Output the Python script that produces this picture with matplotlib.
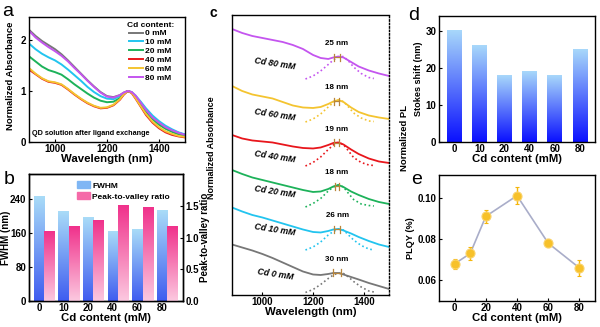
import numpy as np
import matplotlib.pyplot as plt
from matplotlib.colors import LinearSegmentedColormap
from matplotlib.patches import Patch

plt.rcParams['font.family'] = ['Liberation Sans', 'DejaVu Sans']
plt.rcParams['font.weight'] = 'bold'
plt.rcParams['axes.labelweight'] = 'bold'
plt.rcParams['axes.labelsize'] = 8.2
plt.rcParams['axes.linewidth'] = 1.0
plt.rcParams['xtick.direction'] = 'in'
plt.rcParams['ytick.direction'] = 'in'
plt.rcParams['xtick.labelsize'] = 7
plt.rcParams['ytick.labelsize'] = 7
plt.rcParams['xtick.major.size'] = 2.5
plt.rcParams['ytick.major.size'] = 2.5
plt.rcParams['xtick.major.pad'] = 1.5
plt.rcParams['ytick.major.pad'] = 2

# Cd content series
cd_labels = ['0', '10', '20', '40', '60', '80']
cd_values = [0, 10, 20, 40, 60, 80]
line_colors = ['#777777', '#22c4ef', '#1db25a', '#e8161c', '#f4c430', '#c455ef']

# (a) absorbance of QD solutions
wl_a = [900, 925, 950, 975, 1000, 1025, 1050, 1075, 1100, 1125, 1150, 1175, 1200, 1225,
        1250, 1265, 1280, 1295, 1310, 1330, 1350, 1375, 1400, 1425, 1450, 1475, 1500]
abs_0 = [2.20, 2.08, 1.98, 1.90, 1.82, 1.72, 1.60, 1.47, 1.34, 1.21, 1.09, 0.98, 0.90, 0.88,
         0.92, 0.97, 1.00, 0.97, 0.89, 0.75, 0.61, 0.47, 0.37, 0.29, 0.23, 0.18, 0.14]
abs_10 = [1.93, 1.82, 1.73, 1.66, 1.60, 1.52, 1.42, 1.31, 1.20, 1.08, 0.98, 0.90, 0.85, 0.84,
          0.90, 0.96, 1.00, 0.98, 0.91, 0.79, 0.66, 0.52, 0.41, 0.32, 0.25, 0.19, 0.15]
abs_20 = [1.68, 1.58, 1.48, 1.41, 1.37, 1.32, 1.23, 1.13, 1.04, 0.95, 0.87, 0.81, 0.78, 0.79,
          0.86, 0.94, 1.00, 0.97, 0.88, 0.74, 0.59, 0.45, 0.34, 0.26, 0.20, 0.15, 0.12]
abs_40 = [1.42, 1.33, 1.24, 1.18, 1.16, 1.12, 1.03, 0.93, 0.84, 0.76, 0.70, 0.66, 0.67, 0.72,
          0.83, 0.93, 1.00, 0.96, 0.85, 0.69, 0.53, 0.38, 0.27, 0.19, 0.14, 0.11, 0.09]
abs_60 = [1.45, 1.34, 1.25, 1.19, 1.17, 1.13, 1.04, 0.94, 0.85, 0.77, 0.71, 0.67, 0.68, 0.73,
          0.84, 0.94, 1.00, 0.97, 0.86, 0.70, 0.55, 0.40, 0.29, 0.21, 0.16, 0.12, 0.10]
abs_80 = [2.18, 2.05, 1.95, 1.86, 1.78, 1.69, 1.58, 1.45, 1.33, 1.20, 1.08, 0.97, 0.89, 0.87,
          0.92, 0.97, 1.00, 0.98, 0.91, 0.77, 0.63, 0.48, 0.38, 0.29, 0.23, 0.18, 0.14]
abs_a = [abs_0, abs_10, abs_20, abs_40, abs_60, abs_80]

# (b) FWHM and peak-to-valley ratio
fwhm = [246, 212, 197, 165, 170, 214]
peak_valley = [1.10, 1.18, 1.27, 1.50, 1.48, 1.17]

# (c) stacked absorbance (solid) and PL (dotted), relative to each trace's baseline
wl_c = [880, 920, 960, 1000, 1040, 1080, 1120, 1160, 1200, 1230, 1260, 1280, 1300, 1320,
        1350, 1380, 1420, 1460, 1500]
c_abs_0 = [4.45, 4.15, 3.85, 3.50, 3.10, 2.65, 2.20, 1.75, 1.45, 1.40, 1.50, 1.60, 1.60, 1.45,
           1.20, 0.95, 0.60, 0.30, 0.0]
c_abs_10 = [3.95, 3.55, 3.20, 2.95, 2.65, 2.35, 2.05, 1.75, 1.50, 1.45, 1.60, 1.75, 1.80, 1.65,
            1.35, 1.00, 0.60, 0.25, 0.0]
c_abs_20 = [3.40, 3.00, 2.65, 2.40, 2.15, 1.90, 1.65, 1.40, 1.20, 1.25, 1.50, 1.75, 1.90, 1.70,
            1.25, 0.90, 0.50, 0.20, 0.0]
c_abs_40 = [2.80, 2.45, 2.25, 2.15, 2.05, 1.85, 1.65, 1.50, 1.45, 1.55, 1.80, 2.00, 2.05, 1.85,
            1.35, 0.90, 0.45, 0.15, 0.0]
c_abs_60 = [3.30, 2.80, 2.45, 2.25, 2.05, 1.70, 1.35, 1.15, 1.10, 1.20, 1.50, 1.75, 1.90, 1.70,
            1.15, 0.70, 0.35, 0.15, 0.0]
c_abs_80 = [4.70, 4.30, 4.00, 3.80, 3.60, 3.40, 3.10, 2.70, 2.10, 1.80, 1.70, 1.85, 1.95, 1.85,
            1.40, 0.95, 0.55, 0.25, 0.0]
c_abs = [c_abs_0, c_abs_10, c_abs_20, c_abs_40, c_abs_60, c_abs_80]

wl_pl = [1170, 1200, 1230, 1260, 1280, 1300, 1320, 1340, 1360, 1390, 1420, 1440]
c_pl_0 = [-0.35, -0.05, 0.45, 1.05, 1.40, 1.60, 1.55, 1.20, 0.75, 0.20, -0.20, -0.30]
c_pl_10 = [-0.30, 0.00, 0.50, 1.20, 1.55, 1.80, 1.70, 1.20, 0.70, 0.15, -0.20, -0.30]
c_pl_20 = [-0.30, 0.05, 0.55, 1.30, 1.70, 1.90, 1.70, 1.05, 0.45, 0.00, -0.15, -0.20]
c_pl_40 = [-0.30, 0.05, 0.60, 1.35, 1.80, 2.05, 1.85, 1.20, 0.55, 0.05, -0.20, -0.25]
c_pl_60 = [-0.30, 0.00, 0.50, 1.20, 1.65, 1.90, 1.75, 1.20, 0.60, 0.10, -0.20, -0.25]
c_pl_80 = [-0.30, 0.00, 0.50, 1.15, 1.60, 1.90, 1.95, 1.50, 0.90, 0.25, -0.15, -0.25]
c_pl = [c_pl_0, c_pl_10, c_pl_20, c_pl_40, c_pl_60, c_pl_80]

abs_peak_c = [1280, 1282, 1286, 1283, 1284, 1282]

# (d) Stokes shift, (e) PLQY
stokes = [30, 26, 18, 19, 18, 25]
plqy = [0.068, 0.073, 0.091, 0.101, 0.078, 0.066]
plqy_err = [0.0025, 0.003, 0.003, 0.004, 0.002, 0.004]

# vertical stacking of the traces in (c) and placement of their names
c_offsets = [0.6, 4.8, 9.1, 13.2, 17.6, 21.9]
c_name_dy = [1.5, 1.7, 1.2, 0.6, 0.4, 1.2]

blue_cmap = LinearSegmentedColormap.from_list('blue_bar', ['#3f5cf0', '#a9dcf8'])
pink_cmap = LinearSegmentedColormap.from_list('pink_bar', ['#fcc9e0', '#f0318b'])
deep_cmap = LinearSegmentedColormap.from_list('deep_bar', ['#0a10ff', '#a8d8fa'])


def fill_gradient(ax, bars, cmap):
    # paint each bar with a vertical colour ramp clipped to the bar outline
    grad = np.linspace(1, 0, 256).reshape(-1, 1)
    for bar in bars:
        x0, y0 = bar.get_x(), bar.get_y()
        w, h = bar.get_width(), bar.get_height()
        ax.imshow(grad, extent=[x0, x0 + w, y0, y0 + h], aspect='auto', cmap=cmap,
                  origin='upper', clip_path=bar, zorder=2, vmin=0, vmax=1)
        bar.set_facecolor('none')
        bar.set_edgecolor('none')


fig = plt.figure(figsize=(6, 3.27), dpi=100)

# ---- a ----
ax_a = fig.add_axes([0.0483, 0.5657, 0.26, 0.3823])
for vals, col, lab in zip(abs_a, line_colors, cd_labels):
    ax_a.plot(wl_a, vals, color=col, lw=1.4, label=lab + ' mM')
ax_a.set_xlim(900, 1500)
ax_a.set_ylim(0, 2.45)
ax_a.set_xticks([1000, 1200, 1400])
ax_a.set_yticks([0, 1, 2])
ax_a.set_xlabel('Wavelength (nm)', labelpad=0)
ax_a.set_ylabel('Normalized Absorbance', fontsize=6.8)
ax_a.yaxis.set_label_coords(-0.09, 0.53)
leg = ax_a.legend(title='Cd content:', fontsize=6, title_fontsize=6, frameon=False,
                  loc='upper right', bbox_to_anchor=(0.95, 0.99), handlelength=1.6,
                  handletextpad=0.3, labelspacing=0.12, borderaxespad=0.2,
                  borderpad=0.2)
leg.get_title().set_fontweight('bold')
ax_a.text(0.02, 0.06, 'QD solution after ligand exchange', transform=ax_a.transAxes,
          fontsize=5.2, fontweight='bold')

# ---- b ----
ax_b = fig.add_axes([0.0483, 0.0795, 0.2567, 0.3884])
ax_b2 = ax_b.twinx()
x_b = np.arange(len(cd_labels))
bw = 0.42
bars_f = ax_b.bar(x_b, fwhm, width=bw)
bars_p = ax_b2.bar(x_b + bw, peak_valley, width=bw)
fill_gradient(ax_b, bars_f, blue_cmap)
fill_gradient(ax_b2, bars_p, pink_cmap)
ax_b.set_xlim(-0.4, 5.85)
ax_b.set_ylim(0, 300)
ax_b2.set_ylim(0, 2.0)
ax_b.set_xticks(x_b)
ax_b.set_xticklabels(cd_labels)
ax_b.set_yticks([0, 80, 160, 240])
ax_b2.set_yticks([0.0, 0.5, 1.0, 1.5])
ax_b2.set_yticklabels(['0.0', '0.5', '1.0', '1.5'])
ax_b.set_xlabel('Cd content (mM)', labelpad=0)
ax_b.set_ylabel('FWHM (nm)', fontsize=7)
ax_b2.set_ylabel('Peak-to-valley ratio', fontsize=7)
ax_b.yaxis.set_label_coords(-0.115, 0.5)
ax_b2.yaxis.set_label_coords(1.11, 0.5)
ax_b.legend(handles=[Patch(color='#7fb6f4', label='FWHM'),
                     Patch(color='#f56aa8', label='Peak-to-valley ratio')],
            fontsize=6, frameon=False, loc='upper left', bbox_to_anchor=(0.26, 1.0),
            handlelength=1.6, handleheight=0.9, handletextpad=0.3, labelspacing=0.3)

# ---- c ----
ax_c = fig.add_axes([0.3867, 0.0979, 0.2617, 0.8563])
for i in range(len(cd_labels)):
    off = c_offsets[i]
    col = line_colors[i]
    ax_c.plot(wl_c, np.array(c_abs[i]) + off, color=col, lw=1.3)
    ax_c.plot(wl_pl, np.array(c_pl[i]) + off, color=col, lw=1.2, ls=(0, (1, 1.6)))
    p_abs = abs_peak_c[i]
    p_pl = p_abs + stokes[i]
    y_pk = off + np.interp(p_abs, wl_c, c_abs[i])
    ax_c.plot([p_abs, p_pl], [y_pk, y_pk], color='#b8863b', lw=0.9)
    for xv in (p_abs, p_pl):
        ax_c.plot([xv, xv], [y_pk - 0.35, y_pk + 0.35], color='#b8863b', lw=0.9)
    ax_c.text((p_abs + p_pl) / 2, y_pk + 1.0, f'{stokes[i]} nm', fontsize=5.8,
              fontweight='bold', ha='center', va='bottom')
    ax_c.text(1050, off + c_name_dy[i], f'Cd {cd_labels[i]} mM', fontsize=6.3,
              fontweight='bold', style='italic', ha='center', va='center', rotation=-9)
ax_c.set_xlim(880, 1500)
ax_c.set_ylim(0, 28)
ax_c.set_xticks([1000, 1200, 1400])
ax_c.set_yticks([])
ax_c.spines['right'].set_linestyle((0, (1, 1.5)))
ax_c.set_xlabel('Wavelength (nm)', labelpad=0)
ax_c.set_ylabel('Normalized Absorbance', fontsize=6.5)
ax_c.yaxis.set_label_coords(-0.10, 0.525)
ax_c.text(1.10, 0.56, 'Normalized PL', transform=ax_c.transAxes, rotation=90,
          fontsize=6.8, fontweight='bold', ha='center', va='center')

# ---- d ----
ax_d = fig.add_axes([0.7317, 0.5657, 0.26, 0.3853])
x_d = np.arange(len(cd_labels))
bars_d = ax_d.bar(x_d, stokes, width=0.58)
fill_gradient(ax_d, bars_d, deep_cmap)
ax_d.set_xlim(-0.6, 5.6)
ax_d.set_ylim(0, 34)
ax_d.set_xticks(x_d)
ax_d.set_xticklabels(cd_labels)
ax_d.set_yticks([0, 10, 20, 30])
ax_d.set_xlabel('Cd content (mM)', labelpad=0)
ax_d.set_ylabel('Stokes shift (nm)', fontsize=6.6)
ax_d.yaxis.set_label_coords(-0.1, 0.5)

# ---- e ----
ax_e = fig.add_axes([0.7317, 0.0795, 0.26, 0.3853])
ax_e.plot(cd_values, plqy, color='#a9adc9', lw=1.2, zorder=2)
ax_e.errorbar(cd_values, plqy, yerr=plqy_err, fmt='o', color='#f5b60a', ms=6.5,
              mfc='#f7c12a', mec='#fad36b', mew=0.8, elinewidth=1.0, capsize=1.5,
              zorder=3)
ax_e.set_xlim(-10, 90)
ax_e.set_ylim(0.05, 0.111)
ax_e.set_xticks([0, 20, 40, 60, 80])
ax_e.set_yticks([0.06, 0.08, 0.10])
ax_e.set_yticklabels(['0.06', '0.08', '0.10'])
ax_e.set_xlabel('Cd content (mM)', labelpad=0)
ax_e.set_ylabel('PLQY (%)', fontsize=6.6)
ax_e.yaxis.set_label_coords(-0.155, 0.5)

# panel letters
fig.text(8 / 600, 1 - 12 / 327, 'a', fontsize=14, fontweight='normal', ha='center', va='center')
fig.text(9 / 600, 1 - 180 / 327, 'b', fontsize=14, fontweight='normal', ha='center', va='center')
fig.text(213 / 600, 1 - 13 / 327, 'c', fontsize=10, fontweight='bold', ha='center', va='center')
fig.text(414 / 600, 1 - 15 / 327, 'd', fontsize=14, fontweight='normal', ha='center', va='center')
fig.text(417 / 600, 1 - 179 / 327, 'e', fontsize=14, fontweight='normal', ha='center', va='center')

fig.savefig('out.png', dpi=100)
